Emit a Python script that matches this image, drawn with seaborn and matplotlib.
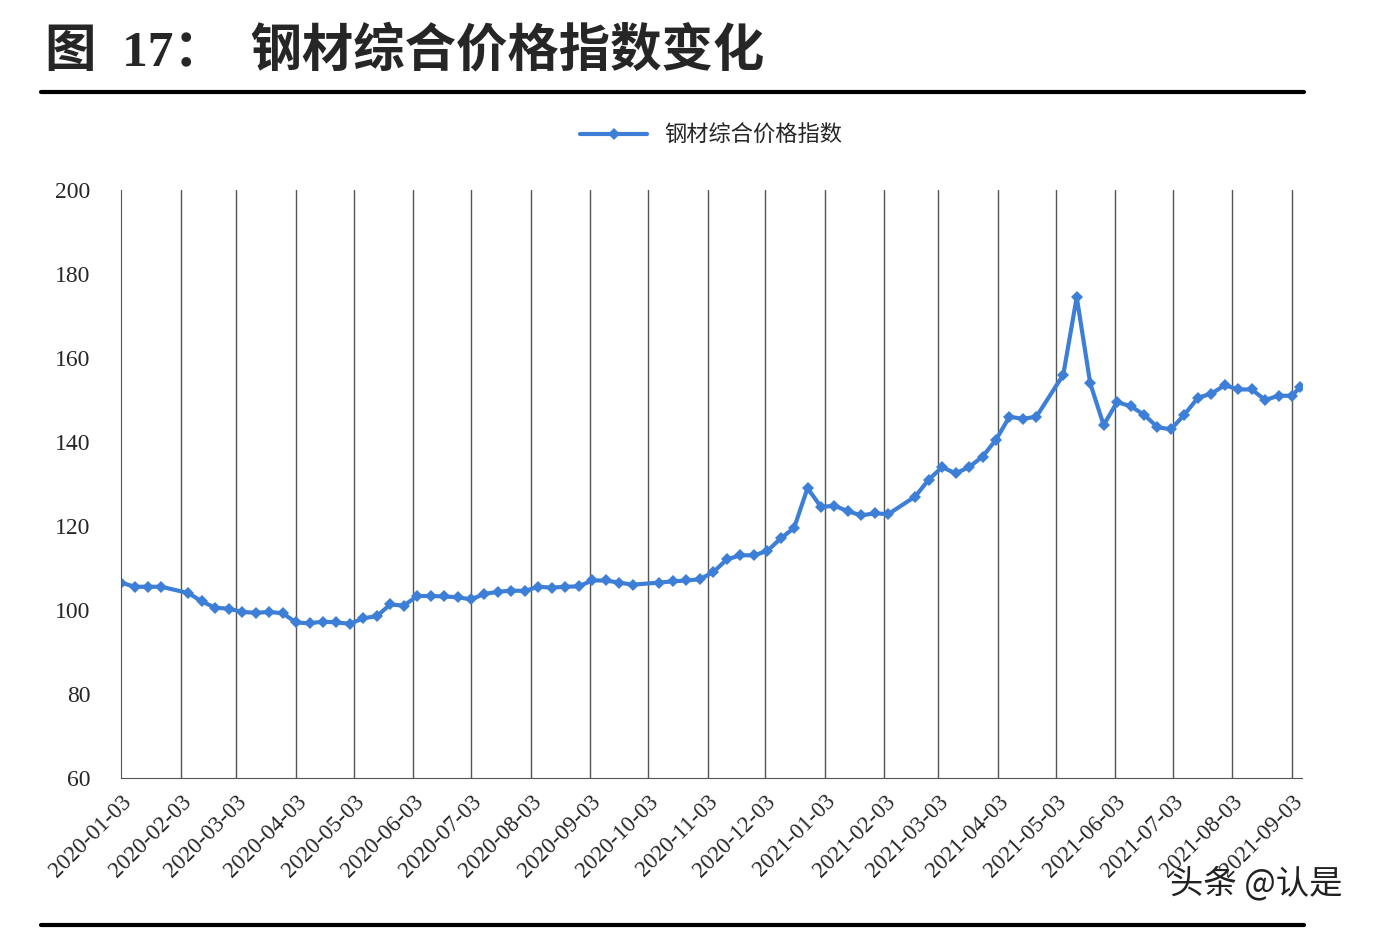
import pandas as pd
import numpy as np
import seaborn as sns
import matplotlib.pyplot as plt

# weekly dates (Fridays) with holiday gaps
dates = (['2020-01-03', '2020-01-10', '2020-01-17', '2020-01-24',
          '2020-02-07', '2020-02-14', '2020-02-21', '2020-02-28',
          '2020-03-06', '2020-03-13', '2020-03-20', '2020-03-27',
          '2020-04-03', '2020-04-10', '2020-04-17', '2020-04-24',
          '2020-05-01', '2020-05-08', '2020-05-15', '2020-05-22', '2020-05-29',
          '2020-06-05', '2020-06-12', '2020-06-19', '2020-06-26',
          '2020-07-03', '2020-07-10', '2020-07-17', '2020-07-24', '2020-07-31',
          '2020-08-07', '2020-08-14', '2020-08-21', '2020-08-28',
          '2020-09-04', '2020-09-11', '2020-09-18', '2020-09-25',
          '2020-10-09', '2020-10-16', '2020-10-23', '2020-10-30',
          '2020-11-06', '2020-11-13', '2020-11-20', '2020-11-27',
          '2020-12-04', '2020-12-11', '2020-12-18', '2020-12-25',
          '2021-01-01', '2021-01-08', '2021-01-15', '2021-01-22', '2021-01-29',
          '2021-02-05', '2021-02-19', '2021-02-26',
          '2021-03-05', '2021-03-12', '2021-03-19', '2021-03-26',
          '2021-04-02', '2021-04-09', '2021-04-16', '2021-04-23',
          '2021-05-07', '2021-05-14', '2021-05-21', '2021-05-28',
          '2021-06-04', '2021-06-11', '2021-06-18', '2021-06-25',
          '2021-07-02', '2021-07-09', '2021-07-16', '2021-07-23', '2021-07-30',
          '2021-08-06', '2021-08-13', '2021-08-20', '2021-08-27',
          '2021-09-03', '2021-09-07'])
values = [106.5, 105.5, 105.5, 105.5,
          104.0, 102.0, 100.5, 100.3,
          99.5, 99.3, 99.5, 99.2,
          97.0, 96.8, 97.2, 97.0,
          96.7, 98.0, 98.5, 101.3, 101.0,
          103.3, 103.3, 103.2, 103.0,
          102.5, 103.8, 104.3, 104.6, 104.5,
          105.5, 105.3, 105.5, 105.6,
          107.0, 107.0, 106.5, 106.0,
          106.5, 106.8, 107.0, 107.3,
          109.0, 112.0, 113.0, 113.0,
          114.0, 117.0, 119.5, 129.0,
          124.5, 124.8, 123.5, 122.5, 123.0,
          122.8, 127.0, 131.0,
          134.0, 132.5, 134.0, 136.5,
          140.5, 146.0, 145.5, 146.0,
          156.0, 174.5, 154.0, 144.0,
          149.5, 148.5, 146.5, 143.5,
          143.0, 146.5, 150.5, 151.5, 153.5,
          152.5, 152.5, 150.0, 151.0,
          151.0, 153.0]
tick_labels = ['2020-01-03', '2020-02-03', '2020-03-03', '2020-04-03', '2020-05-03',
               '2020-06-03', '2020-07-03', '2020-08-03', '2020-09-03', '2020-10-03',
               '2020-11-03', '2020-12-03', '2021-01-03', '2021-02-03', '2021-03-03',
               '2021-04-03', '2021-05-03', '2021-06-03', '2021-07-03', '2021-08-03',
               '2021-09-03']
series_name = '钢材综合价格指数'

df = pd.DataFrame({'date': pd.to_datetime(dates), 'value': values})

sns.set_style('white')
plt.rcParams['font.family'] = ['Liberation Serif', 'Noto Sans CJK SC', 'DejaVu Sans']

fig = plt.figure(figsize=(13.76, 9.36), dpi=100)
ax = fig.add_axes([0.088, 0.169, 0.858, 0.628])

sns.lineplot(data=df, x='date', y='value', ax=ax, color='#3d7fd6', linewidth=3,
             marker='D', markersize=6, markeredgewidth=0, label=series_name)

ticks = pd.to_datetime(tick_labels)
ax.set_xticks(ticks)
ax.set_xticklabels(tick_labels, rotation=45, ha='right', rotation_mode='anchor', fontsize=16.5)
for t in ticks[1:]:
    ax.axvline(t, color='#555555', linewidth=1, zorder=0)
ax.set_xlim(ticks[0], pd.Timestamp('2021-09-08'))
ax.set_ylim(60, 200)
ax.set_yticks(range(60, 201, 20))
ax.tick_params(axis='y', labelsize=17, length=6, direction='in', pad=22)
ax.tick_params(axis='x', length=6, direction='out')
ax.set_xlabel('')
ax.set_ylabel('')
for s in ['top', 'right']:
    ax.spines[s].set_visible(False)
ax.spines['left'].set_color('#555555')
ax.spines['bottom'].set_color('#555555')

ax.legend(loc='lower center', bbox_to_anchor=(0.5, 1.04), frameon=False,
          handlelength=3, prop={'family': ['Noto Sans CJK SC'], 'size': 16})

fig.text(0.033, 0.945, '图  17：  钢材综合价格指数变化', fontsize=37, fontweight='bold',
         va='center', family=['Liberation Serif', 'Noto Sans CJK SC'])
fig.add_artist(plt.Line2D([0.03, 0.948], [0.902, 0.902], color='black', linewidth=3))
fig.add_artist(plt.Line2D([0.03, 0.948], [0.012, 0.012], color='black', linewidth=3))
fig.text(0.85, 0.045, '头条 @认是', fontsize=24, color='#222222', family=['Noto Sans CJK SC'])

fig.savefig('out.png', dpi=100)
